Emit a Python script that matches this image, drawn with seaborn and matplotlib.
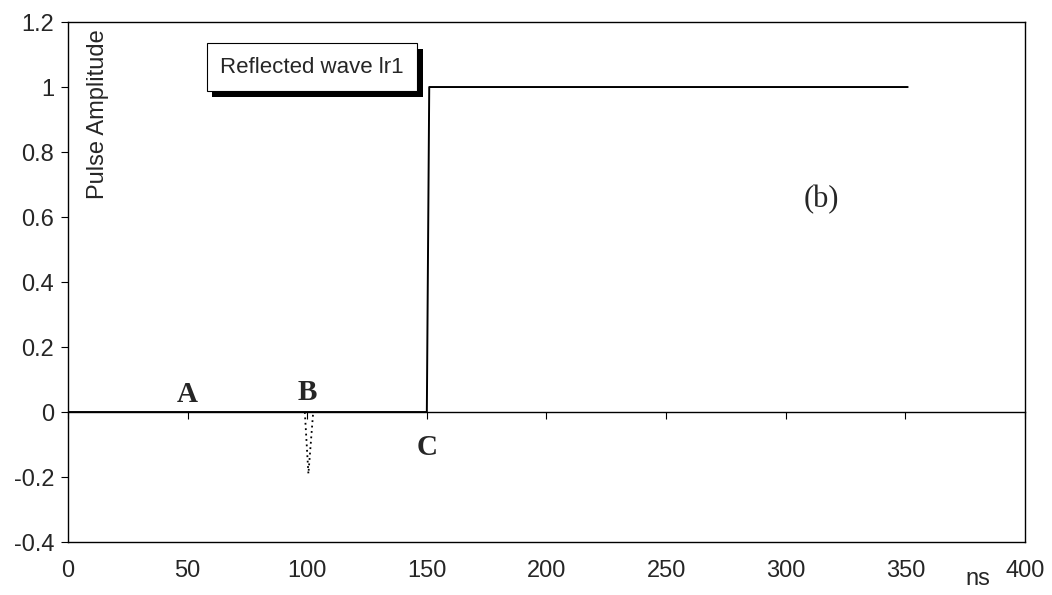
import matplotlib
matplotlib.use("Agg")
import matplotlib.pyplot as plt
import matplotlib.patheffects as pe
from matplotlib import font_manager
import seaborn as sns
import pandas as pd

# Data
step_t = [0, 150, 151, 351]
step_amp = [0, 0, 1, 1]
dip_t = [99, 100.5, 102.5]
dip_amp = [0, -0.19, 0]
x_ticks = [0, 50, 100, 150, 200, 250, 300, 350, 400]
y_ticks = [-0.4, -0.2, 0, 0.2, 0.4, 0.6, 0.8, 1.0, 1.2]
y_labels = ["-0.4", "-0.2", "0", "0.2", "0.4", "0.6", "0.8", "1", "1.2"]
x_labels = ["0", "50", "100", "150", "200", "250", "300", "350", "400"]
point_labels = ["A", "B", "C"]
point_x = [50, 100, 150]
point_y = [0.055, 0.06, -0.108]

sns.set_theme(style="white")
plt.rcParams['font.family'] = ['Liberation Sans', 'DejaVu Sans']

names = {f.name for f in font_manager.fontManager.ttflist}
narrow = ['Liberation Sans Narrow', 'Liberation Sans', 'DejaVu Sans'] if 'Liberation Sans Narrow' in names \
    else ['Liberation Sans', 'DejaVu Sans']

fig = plt.figure(figsize=(10.52, 5.95), dpi=100)
ax = fig.add_axes([0.0646, 0.089, 0.9097, 0.874])

df_step = pd.DataFrame({"t": step_t, "amp": step_amp})
df_dip = pd.DataFrame({"t": dip_t, "amp": dip_amp})
sns.lineplot(data=df_step, x="t", y="amp", sort=False, ax=ax, color="black", lw=1.4)
sns.lineplot(data=df_dip, x="t", y="amp", sort=False, ax=ax, color="black", lw=1.3,
             linestyle=(0, (1, 2)))

ax.set_xlim(0, 400)
ax.set_ylim(-0.4, 1.2)
ax.set_xticks(x_ticks)
ax.set_xticklabels(x_labels)
ax.set_yticks(y_ticks)
ax.set_yticklabels(y_labels)
ax.set_xlabel("")
ax.set_ylabel("")

for s in ax.spines.values():
    s.set_color("black")
    s.set_linewidth(1.0)

ax.tick_params(axis="y", direction="out", length=5, width=0.8, color="black",
               labelsize=17, pad=5, left=True)
ax.tick_params(axis="x", length=0, labelsize=17, pad=13)
for lab in ax.get_xticklabels():
    lab.set_family(narrow)
ax.get_xticklabels()[-1].set_visible(False)

# horizontal axis at y = 0 with tick marks
sec = ax.secondary_xaxis(0.25)
sec.set_xticks(x_ticks)
sec.tick_params(axis="x", direction="out", length=5, width=0.8, color="black",
                labelbottom=False)
sec.spines["bottom"].set_color("black")
sec.spines["bottom"].set_linewidth(1.0)

ax.text(1.0, -0.055, "400", transform=ax.transAxes, ha="center", va="center",
        fontsize=17, family=narrow)
ax.text(0.951, -0.072, "ns", transform=ax.transAxes, ha="center", va="center",
        fontsize=17, family=narrow)

ax.text(0.031, 0.987, "Pulse Amplitude", transform=ax.transAxes, rotation=90,
        ha="center", va="top", fontsize=17)

t = ax.text(0.159, 0.913, "Reflected wave lr1", transform=ax.transAxes,
            ha="left", va="center", fontsize=16,
            bbox=dict(boxstyle="square,pad=0.6", fc="white", ec="black", lw=0.8))
t.get_bbox_patch().set_path_effects([
    pe.SimplePatchShadow(offset=(4, -4), shadow_rgbFace="black", alpha=1.0),
    pe.Normal()])

for lbl, px, py in zip(point_labels, point_x, point_y):
    ax.text(px, py, lbl, ha="center", va="center", fontsize=21, fontweight="bold",
            family=["Liberation Serif", "DejaVu Serif"])

ax.text(315, 0.655, "(b)", ha="center", va="center", fontsize=22,
        family=["Liberation Serif", "DejaVu Serif"])

fig.savefig("out.png", dpi=100)
